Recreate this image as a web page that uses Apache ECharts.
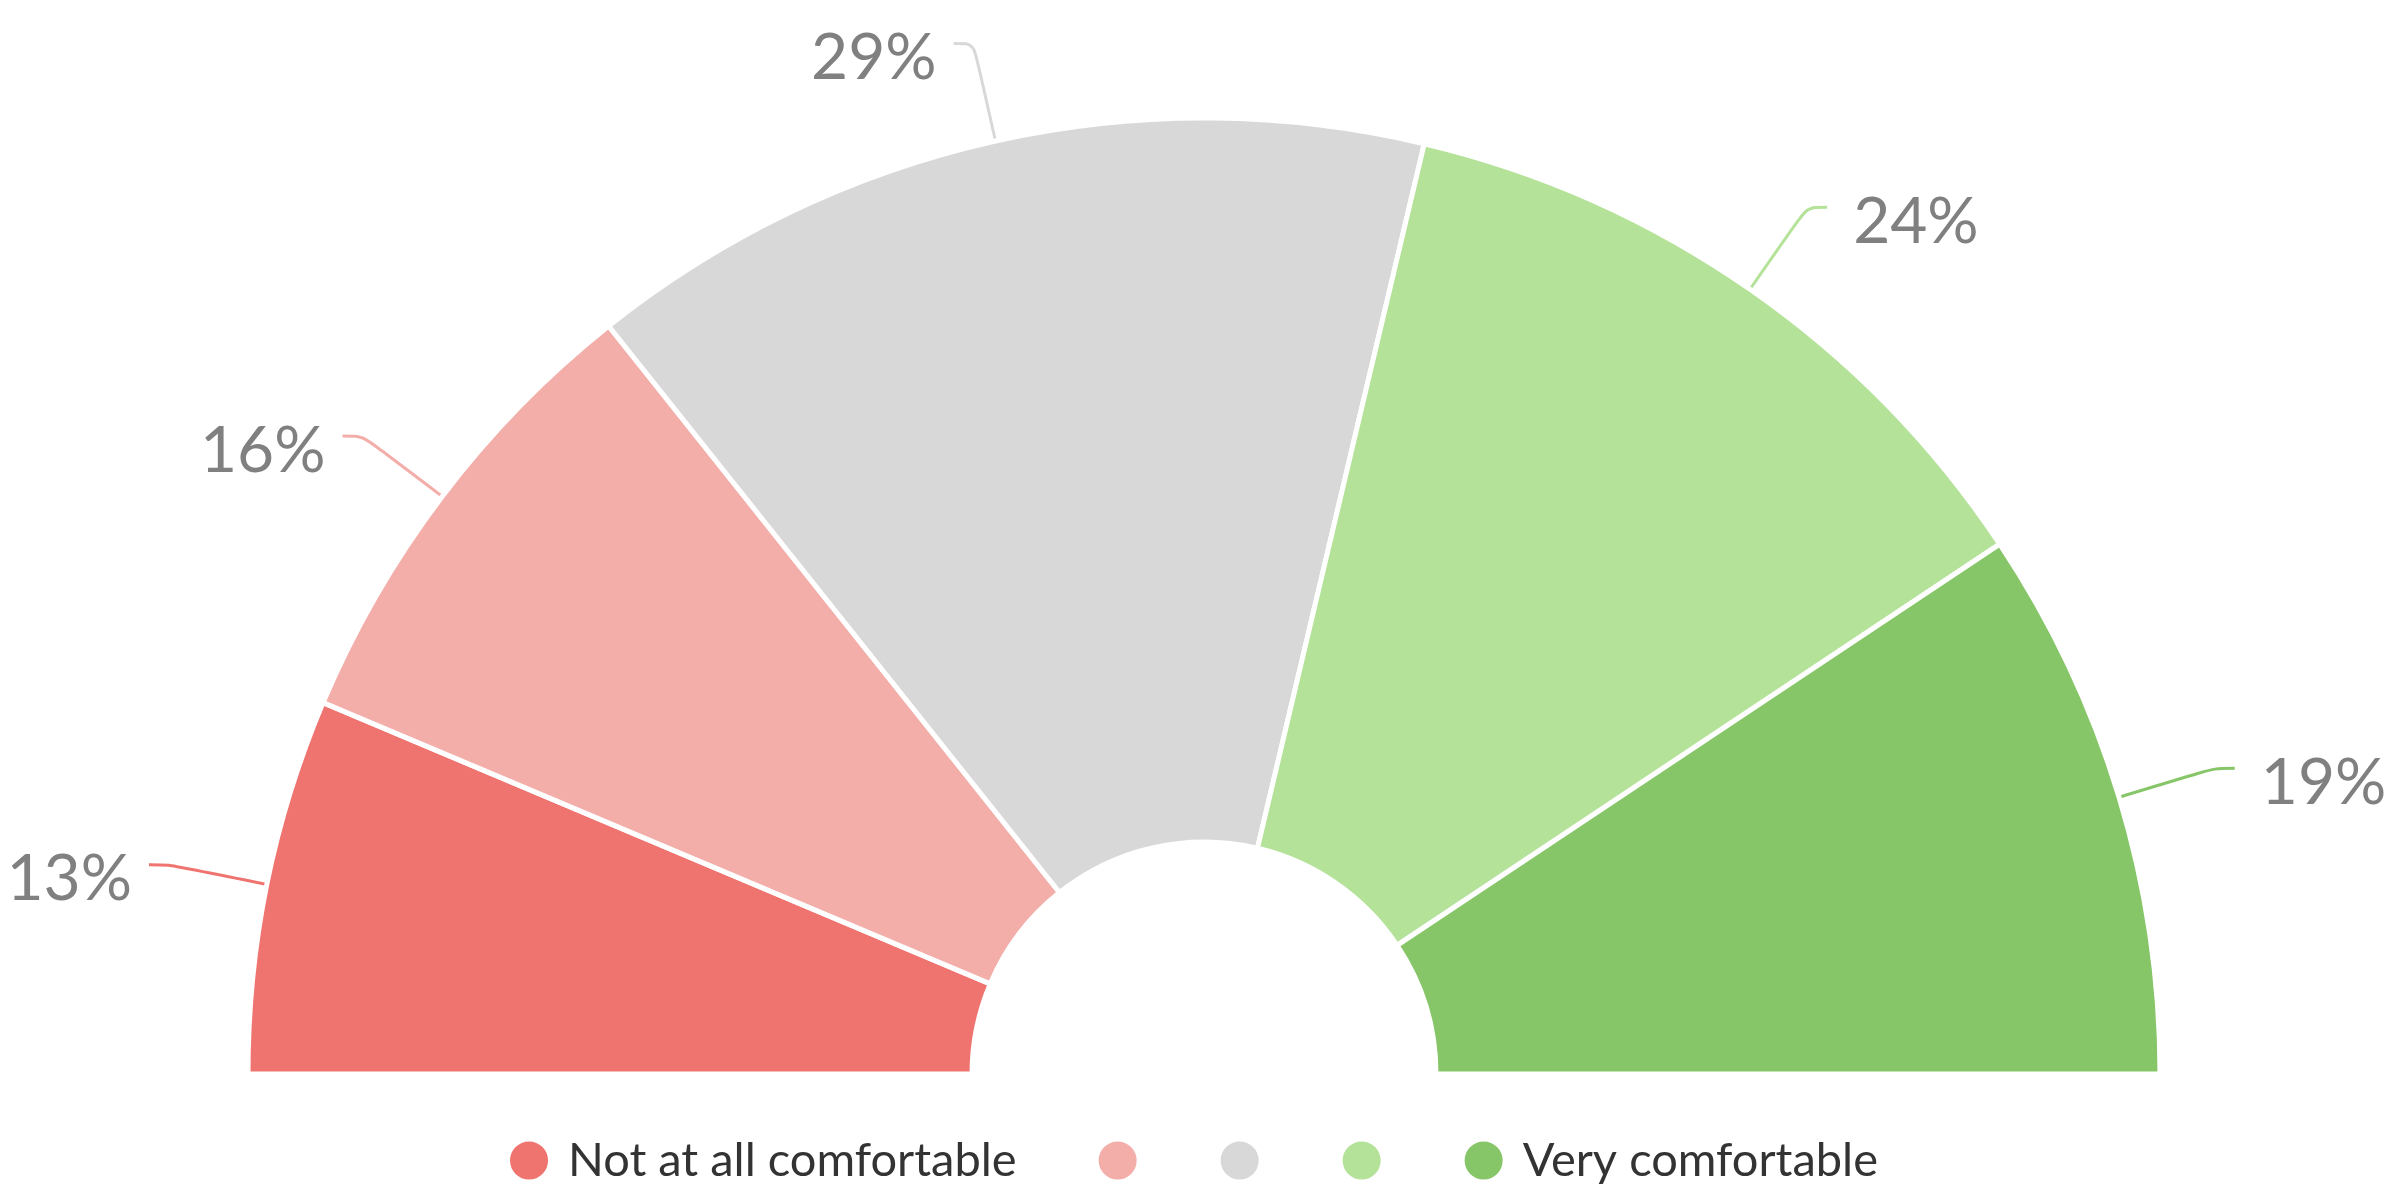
<!DOCTYPE html>
<html><head><meta charset="utf-8">
<script src="https://cdn.jsdelivr.net/npm/echarts@6/dist/echarts.min.js"></script>
<style>html,body{margin:0;padding:0;background:#fff}#c{width:2386px;height:1188px}</style>
</head><body><div id="c"></div>
<script>
const categories = ['Not at all comfortable', 'Level 2', 'Level 3', 'Level 4', 'Very comfortable'];
const legendLabels = ['Not at all comfortable', '', '', '', 'Very comfortable'];
const values = [12.7, 15.9, 28.8, 23.9, 18.7];
const percentLabels = ['13%', '16%', '29%', '24%', '19%'];
const colors = ['#EF7470', '#F3AEA9', '#D8D8D8', '#B5E299', '#87C668'];

const chart = echarts.init(document.getElementById('c'), null, {renderer: 'canvas'});
chart.setOption({
  animation: false,
  color: colors,
  legend: {
    data: categories.map((c, i) => i === 0
      ? {name: c, textStyle: {width: 431, overflow: 'none'}}
      : {name: c}),
    left: 'center',
    top: 1137,
    padding: 0,
    icon: 'circle',
    itemWidth: 40,
    itemHeight: 40,
    itemGap: 80,
    formatter: name => legendLabels[categories.indexOf(name)],
    textStyle: {fontFamily: 'Lato', fontSize: 47, color: '#333333', padding: [0, 0, 0, 14]}
  },
  series: [{
    type: 'pie',
    center: [1204, 1074],
    radius: [232, 956],
    startAngle: 180,
    endAngle: 360,
    clockwise: true,
    avoidLabelOverlap: false,
    itemStyle: {borderColor: '#ffffff', borderWidth: 5},
    label: {
      show: true,
      position: 'outside',
      formatter: p => '{s| }\n{v|' + percentLabels[p.dataIndex] + '}',
      distanceToLabelLine: 17,
      padding: [0, 0, 0, 9],
      rich: {
        s: {fontSize: 10, lineHeight: 30, height: 30},
        v: {fontFamily: 'Lato', fontSize: 64, lineHeight: 76, color: '#808080'}
      }
    },
    labelLine: {
      show: true,
      length: 100,
      length2: 20,
      smooth: 0.3,
      lineStyle: {width: 3}
    },
    data: categories.map((c, i) => ({name: c, value: values[i]}))
  }]
});
</script></body></html>
